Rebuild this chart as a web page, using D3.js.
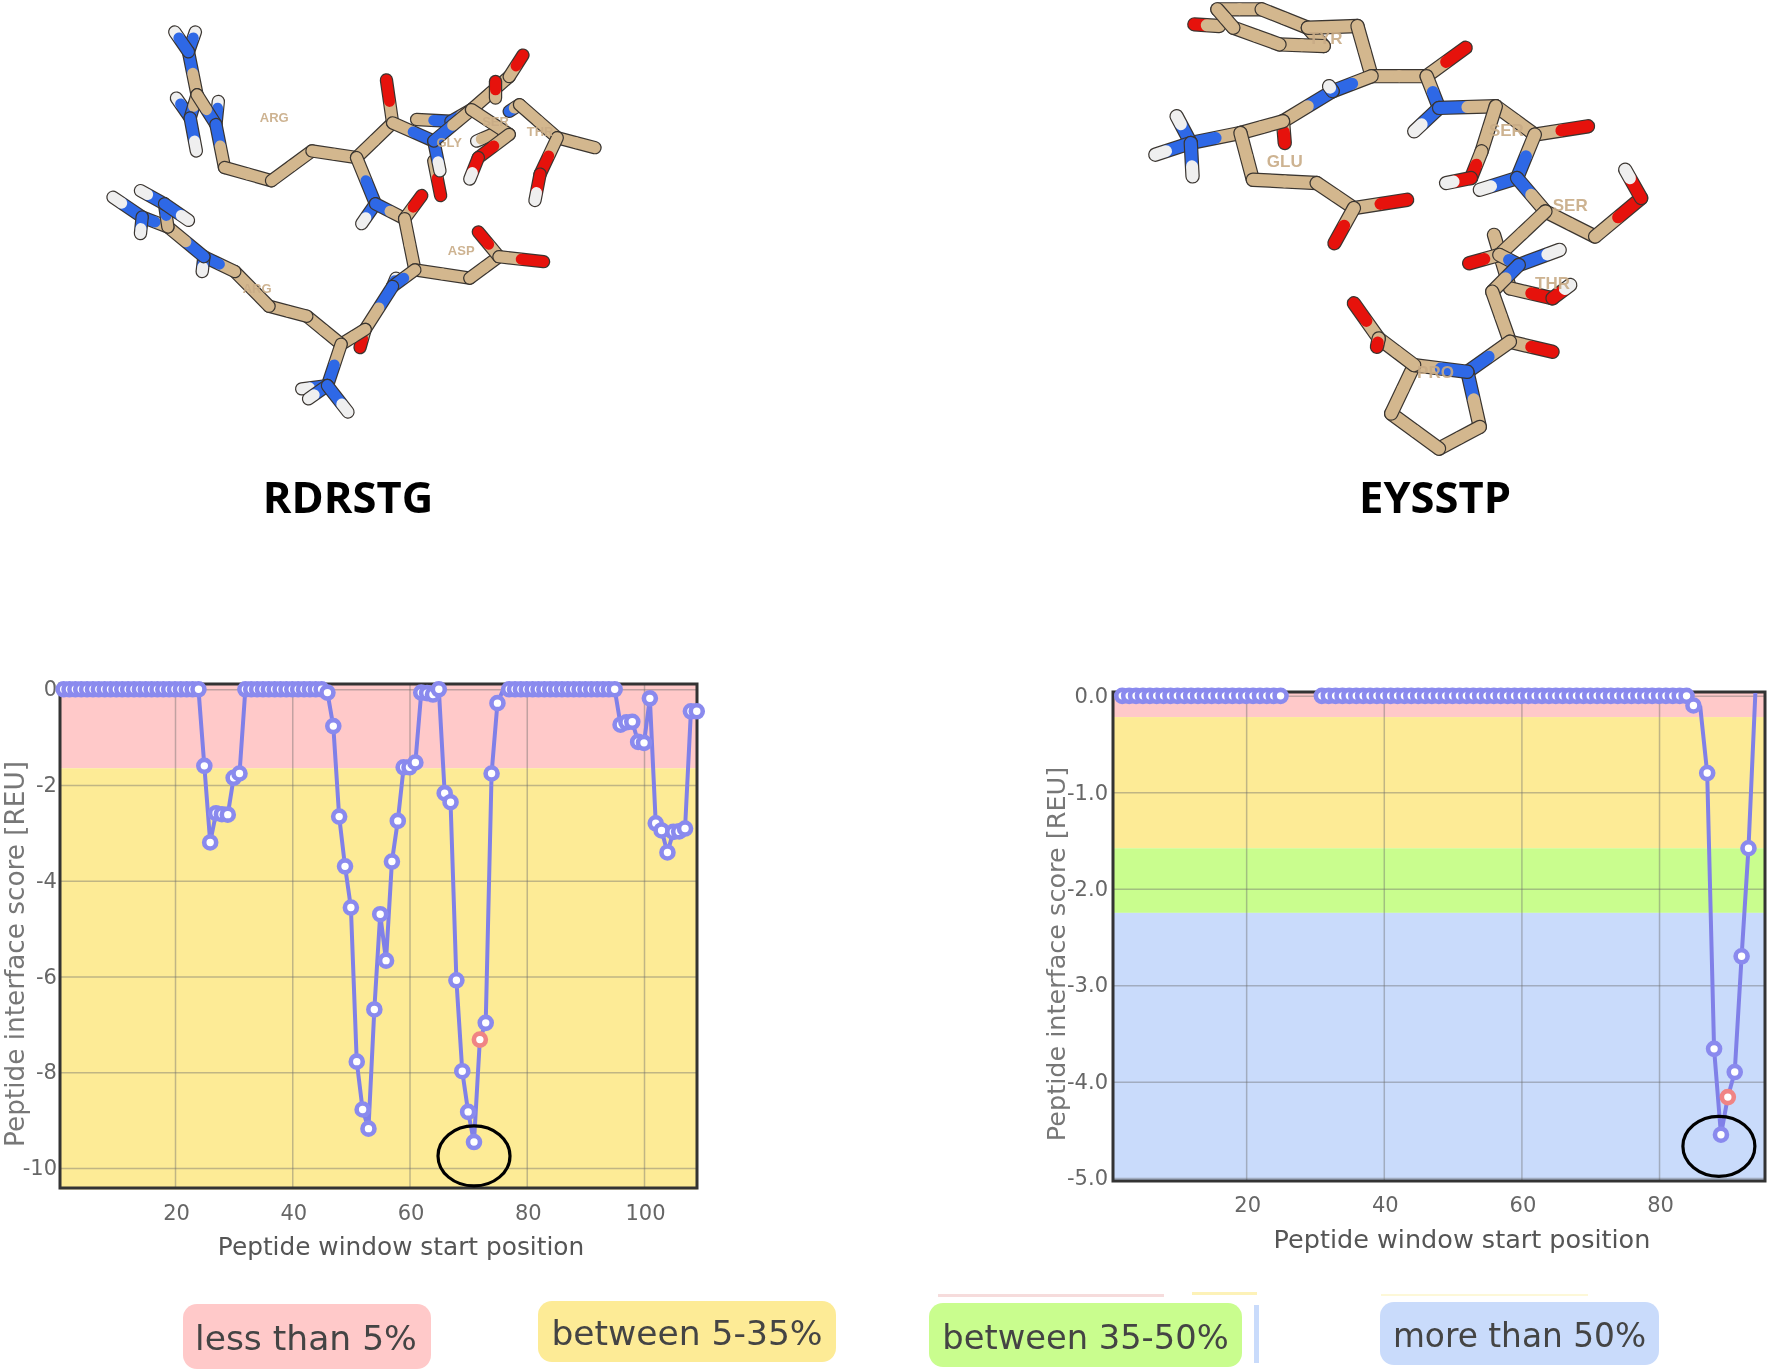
<!DOCTYPE html>
<html><head><meta charset="utf-8">
<script src="https://cdn.jsdelivr.net/npm/d3@7/dist/d3.min.js"></script>
<style>html,body{margin:0;background:#fff}svg{display:block;filter:blur(0.55px)}</style></head><body>
<svg id="c" width="1772" height="1372"></svg>
<script>
// ---------- chart data ----------
const zeros=(a,b)=>d3.range(a,b+1).map(n=>[n,0]);
const leftSeries=[...zeros(1,24),[25,-1.6],[26,-3.2],[27,-2.59],[28,-2.61],[29,-2.62],[30,-1.85],[31,-1.76],
 ...zeros(32,45),[46,-0.07],[47,-0.77],[48,-2.66],[49,-3.7],[50,-4.56],[51,-7.78],[52,-8.78],[53,-9.18],[54,-6.69],
 [55,-4.7],[56,-5.67],[57,-3.6],[58,-2.75],[59,-1.63],[60,-1.63],[61,-1.53],[62,-0.07],[63,-0.08],[64,-0.11],[65,0],
 [66,-2.17],[67,-2.36],[68,-6.08],[69,-7.98],[70,-8.83],[71,-9.46],[72,-7.32],[73,-6.97],[74,-1.76],[75,-0.29],[76,0],
 ...zeros(77,95),[96,-0.74],[97,-0.69],[98,-0.68],[99,-1.1],[100,-1.12],[101,-0.19],[102,-2.8],[103,-2.95],[104,-3.41],
 [105,-2.98],[106,-2.97],[107,-2.91],[108,-0.46],[109,-0.46]];
const leftNoMarker=[76], leftHighlight=72, leftCircled=[71,-9.75];
const rightSeries=[...zeros(2,25),...zeros(31,84),[85,-0.1],[86,-0.12],[87,-0.8],[88,-3.66],[89,-4.55],[90,-4.16],[91,-3.9],[92,-2.7],[93,-1.58],[94,0.03]];
const rightNoMarker=[86,94], rightHighlight=90, rightCircled=[88.7,-4.67];
const leftYTicks=[0,-2,-4,-6,-8,-10], leftXTicks=[20,40,60,80,100];
const rightYTicks=[0,-1,-2,-3,-4,-5], rightXTicks=[20,40,60,80];
const leftBands=[[0.1,-1.65,"#ffc9c9"],[-1.65,-10.45,"#fdeb96"]];
const rightBands=[[0.05,-0.22,"#ffc9c9"],[-0.22,-1.58,"#fdeb96"],[-1.58,-2.25,"#c9fd8e"],[-2.25,-5.03,"#c9dbfb"]];
const legendLabels=["less than 5%","between 5-35%","between 35-50%","more than 50%"];
const legendColors=["#ffc9c9","#fdeb96","#c9fd8e","#c9dbfb"];
const legendFontSizes=[34.5,34.5,33.7,32.8];
const legendBoxes=[[183,1304,248,65],[538,1301,298,61],[929,1303,313,64],[1380,1302,279,63]];
const legendScraps=[[938,1294,226,3,"#f6dcdc"],[1192,1292,65,3,"#fdf2b8"],[1381,1294,207,2,"#fdf8d8"]];
const legendSliver=[1254,1305,5,58,"#c9dbfb"];

// ---------- molecule sketches: chains of [x, y, element] ----------
const chainsA=[
[[305,90,"H"],[285,150,"N"],[310,280,"C"]],[[245,90,"H"],[285,150,"N"]],
[[250,290,"H"],[290,350,"N"],[310,280,"C"]],[[290,350,"N"],[308,450,"H"]],
[[372,300,"H"],[365,370,"N"],[310,280,"C"]],[[365,370,"N"],[390,500,"C"],[527,540,"C"],[645,450,"C"],[775,470,"C"],[880,365,"C"],[862,235,"O"]],
[[1000,480,"C"],[1020,585,"O"]],[[880,365,"C"],[1000,420,"N"],[1018,510,"H"]],
[[950,355,"C"],[1050,360,"N"],[1110,325,"C"]],[[1000,420,"N"],[1110,325,"C"],[1220,225,"C"],[1260,160,"O"]],
[[1180,290,"C"],[1180,240,"O"]],[[1220,330,"N"],[1250,310,"C"],[1360,410,"C"],[1470,440,"C"]],[[1360,410,"C"],[1310,520,"O"],[1295,600,"H"]],
[[1125,420,"H"],[1170,400,"C"]],[[1110,325,"C"],[1220,400,"C"],[1130,470,"O"],[1105,535,"H"]],
[[775,470,"C"],[830,610,"N"],[790,670,"H"]],[[830,610,"N"],[915,655,"C"],[965,585,"O"]],
[[915,655,"C"],[945,810,"C"],[1105,835,"C"],[1190,770,"C"],[1130,695,"O"]],[[1190,770,"C"],[1320,785,"O"]],
[[890,835,"H"],[880,860,"N"]],[[945,810,"C"],[880,860,"N"],[800,990,"C"],[785,1045,"O"]],
[[800,990,"C"],[730,1035,"C"],[630,950,"C"],[520,920,"C"],[420,815,"C"],[330,770,"N"],[325,815,"H"]],
[[330,770,"N"],[225,680,"C"],[150,650,"N"],[65,590,"H"]],[[150,650,"N"],[145,700,"H"]],
[[225,680,"C"],[215,610,"N"],[145,570,"H"]],[[215,610,"N"],[285,660,"H"]],
[[730,1035,"C"],[690,1160,"N"],[615,1170,"H"]],[[690,1160,"N"],[635,1200,"H"]],[[690,1160,"N"],[750,1240,"H"]]];
const labelsA=[["ARG",535,348],["GLY",1045,425],["SER",1180,362],["THR",1310,390],["ASP",1080,752],["ARG",485,865]];
const chainsB=[
[[180,70,"O"],[250,75,"C"]],[[245,25,"C"],[370,25,"C"],[500,80,"C"],[545,135,"C"],[420,130,"C"],[290,80,"C"],[245,25,"C"]],
[[500,80,"C"],[640,75,"C"],[680,225,"C"],[835,225,"C"],[945,140,"O"]],[[835,225,"C"],[870,320,"N"],[800,390,"H"]],
[[870,320,"N"],[1030,315,"C"],[1140,400,"C"],[1290,375,"O"]],[[1030,315,"C"],[990,450,"C"],[960,530,"O"],[890,545,"H"]],
[[1140,400,"C"],[1090,530,"N"],[985,565,"H"]],[[1090,530,"N"],[1170,630,"C"],[1310,705,"C"],[1440,590,"O"],[1395,505,"H"]],
[[1025,700,"C"],[1070,860,"C"],[1190,890,"O"],[1240,850,"H"]],
[[1170,630,"C"],[1040,760,"C"],[955,785,"O"]],[[1040,760,"C"],[1095,790,"N"],[1210,745,"H"]],
[[1095,790,"N"],[1020,870,"C"],[1070,1020,"C"],[1190,1050,"O"]],[[1070,1020,"C"],[950,1110,"N"],[985,1275,"C"],[870,1340,"C"],[735,1235,"C"],[800,1090,"C"],[950,1110,"N"]],
[[800,1090,"C"],[700,1010,"C"],[630,905,"O"]],[[700,1010,"C"],[695,1035,"O"]],
[[680,225,"C"],[570,270,"N"],[430,360,"C"],[435,425,"O"]],[[570,270,"N"],[560,255,"H"]],
[[430,360,"C"],[310,395,"C"],[170,425,"N"],[130,345,"H"]],[[170,425,"N"],[70,460,"H"]],[[170,425,"N"],[175,525,"H"]],
[[310,395,"C"],[345,535,"C"],[525,545,"C"],[630,620,"C"],[780,595,"O"]],[[630,620,"C"],[575,725,"O"]]];
const labelsB=[["TYR",550,110],["GLU",435,478],["SER",1060,385],["SER",1240,610],["THR",1190,845],["PRO",860,1112]];
const moleculeA={xDomain:[65,1470],xRange:[113,595],yDomain:[90,1240],yRange:[32,412]};
const moleculeB={xDomain:[55,1400],xRange:[1150,1627],yDomain:[15,1350],yRange:[6,452]};
const atomColor={C:"#d3b78e",N:"#2e68e6",O:"#e6120c",H:"#efefef"};

const svg=d3.select("#c");
svg.append("rect").attr("width",1772).attr("height",1372).attr("fill","#fff");

function molecule(chains,labels,m,labelSize,w){
  const x=d3.scaleLinear().domain(m.xDomain).range(m.xRange), y=d3.scaleLinear().domain(m.yDomain).range(m.yRange);
  const g=svg.append("g").attr("stroke-linecap","round");
  const pairs=chains.flatMap(c=>d3.pairs(c));
  pairs.forEach(([a,b])=>{
    const f=a[2]==="H"?0.3:b[2]==="H"?0.7:0.5;
    const mx=a[0]+(b[0]-a[0])*f,my=a[1]+(b[1]-a[1])*f;
    g.append("line").attr("x1",x(a[0])).attr("y1",y(a[1])).attr("x2",x(b[0])).attr("y2",y(b[1])).attr("stroke","#3a3530").attr("stroke-width",w+2.4);
    [[a,[mx,my]],[[mx,my],b]].forEach(([p,q],i)=>{
      g.append("line").attr("x1",x(p[0])).attr("y1",y(p[1])).attr("x2",x(q[0])).attr("y2",y(q[1]))
       .attr("stroke",atomColor[(i?b:a)[2]]).attr("stroke-width",w);
    });
  });
  g.selectAll("text").data(labels).join("text").attr("x",d=>x(d[1])).attr("y",d=>y(d[2])).attr("text-anchor","middle").attr("dy",".35em")
   .attr("fill","#c8ab86").attr("font-family","Liberation Sans").attr("font-weight","bold").attr("font-size",labelSize).attr("opacity",.9).text(d=>d[0]);
}
molecule(chainsA,labelsA,moleculeA,13,11);
molecule(chainsB,labelsB,moleculeB,17,12);

const titleFont="'Open Sans'";
[["RDRSTG",348,513],["EYSSTP",1435,513]].forEach(d=>svg.append("text").attr("x",d[1]).attr("y",d[2]).attr("text-anchor","middle")
  .attr("font-family",titleFont).attr("font-weight",700).attr("font-size",43.5).attr("fill","#000").text(d[0]));

function chart(o){
  const x=d3.scaleLinear().domain(o.xDomain).range([o.l,o.r]);
  const y=d3.scaleLinear().domain(o.yDomain).range([o.t,o.b]);
  const g=svg.append("g");
  g.selectAll(".band").data(o.bands).join("rect").attr("x",o.l).attr("width",o.r-o.l)
    .attr("y",d=>y(d[0])).attr("height",d=>y(d[1])-y(d[0])).attr("fill",d=>d[2]);
  const ax=g.append("g").attr("transform",`translate(0,${o.t})`).call(d3.axisBottom(x).tickValues(o.xTicks).tickSize(o.b-o.t).tickSizeOuter(0));
  ax.select(".domain").remove();
  ax.selectAll("line").attr("stroke","#6b6b6b").attr("stroke-opacity",.42).attr("stroke-width",1.5);
  ax.selectAll("text").attr("y",o.b-o.t+o.xTickPad).attr("dy","0").attr("x",1).attr("font-size",21).attr("font-family","DejaVu Sans").attr("fill","#666");
  const ay=g.append("g").attr("transform",`translate(${o.l},0)`).call(d3.axisLeft(y).tickValues(o.yTicks).tickSize(-(o.r-o.l)).tickSizeOuter(0).tickFormat(d=>o.fmt(d).replace("\u2212","-")));
  ay.select(".domain").remove();
  ay.selectAll("line").attr("stroke","#6b6b6b").attr("stroke-opacity",.42).attr("stroke-width",1.5);
  ay.selectAll("text").attr("x",o.yTickX).attr("font-size",21).attr("font-family","DejaVu Sans").attr("fill","#666");
  g.append("rect").attr("x",o.l).attr("y",o.t).attr("width",o.r-o.l).attr("height",o.b-o.t).attr("fill","none").attr("stroke","#333").attr("stroke-width",3);
  g.append("text").attr("x",o.titleX).attr("y",o.titleY).attr("text-anchor","middle").attr("font-size",o.xTitleSize).attr("font-family","DejaVu Sans").attr("fill","#555").text("Peptide window start position");
  g.append("text").attr("transform",`translate(${o.yTitleX},${o.yTitleY}) rotate(-90)`).attr("text-anchor","middle").attr("font-size",o.yTitleSize).attr("font-family","DejaVu Sans").attr("fill","#777").text("Peptide interface score [REU]");
  const lineGen=d3.line().x(d=>x(d[0])).y(d=>y(d[1]));
  const segs=[]; let cur=[];
  o.series.forEach((d,i)=>{ if(i&&d[0]-o.series[i-1][0]>2){segs.push(cur);cur=[];} cur.push(d); }); segs.push(cur);
  segs.forEach(s=>g.append("path").attr("d",lineGen(s)).attr("fill","none").attr("stroke","#8080e8").attr("stroke-width",4));
  g.selectAll(".pt").data(o.series.filter(d=>!o.noMarker.includes(d[0]))).join("circle")
    .attr("cx",d=>x(d[0])).attr("cy",d=>y(d[1])).attr("r",6)
    .attr("fill","#fff").attr("stroke",d=>d[0]===o.highlight?"#f08484":"#8a8aee").attr("stroke-width",4.6);
  g.append("ellipse").attr("cx",x(o.circled[0])).attr("cy",y(o.circled[1])).attr("rx",36).attr("ry",30).attr("fill","none").attr("stroke","#000").attr("stroke-width",3.2);
}
chart({l:60,r:697,t:684,b:1188,xDomain:[0.38,109.04],yDomain:[0.11,-10.42],bands:leftBands,xTicks:leftXTicks,yTicks:leftYTicks,yTickX:-3,
  fmt:d3.format("d"),xTickPad:32,titleX:401,titleY:1255,xTitleSize:24.8,yTitleSize:26.3,yTitleX:24,yTitleY:954,series:leftSeries,noMarker:leftNoMarker,highlight:leftHighlight,circled:leftCircled});
chart({l:1113,r:1765,t:692,b:1181,xDomain:[0.65,95.4],yDomain:[0.04,-5.03],bands:rightBands,xTicks:rightXTicks,yTicks:rightYTicks,yTickX:-5,
  fmt:d3.format(".1f"),xTickPad:31,titleX:1462,titleY:1248,xTitleSize:25.5,yTitleSize:25.5,yTitleX:1065,yTitleY:954,series:rightSeries,noMarker:rightNoMarker,highlight:rightHighlight,circled:rightCircled});

svg.selectAll(".scrap").data(legendScraps).join("rect").attr("x",d=>d[0]).attr("y",d=>d[1]).attr("width",d=>d[2]).attr("height",d=>d[3]).attr("fill",d=>d[4]);
svg.append("rect").attr("x",legendSliver[0]).attr("y",legendSliver[1]).attr("width",legendSliver[2]).attr("height",legendSliver[3]).attr("fill",legendSliver[4]);
legendBoxes.forEach((b,i)=>{
  svg.append("rect").attr("x",b[0]).attr("y",b[1]).attr("width",b[2]).attr("height",b[3]).attr("rx",14).attr("fill",legendColors[i]);
  svg.append("text").attr("x",b[0]+b[2]/2-(i===0?1:0)).attr("y",b[1]+b[3]/2+1.5).attr("dy",".36em").attr("text-anchor","middle").attr("font-size",legendFontSizes[i])
    .attr("font-family","DejaVu Sans").attr("fill","#444").text(legendLabels[i]);
});
</script></body></html>
